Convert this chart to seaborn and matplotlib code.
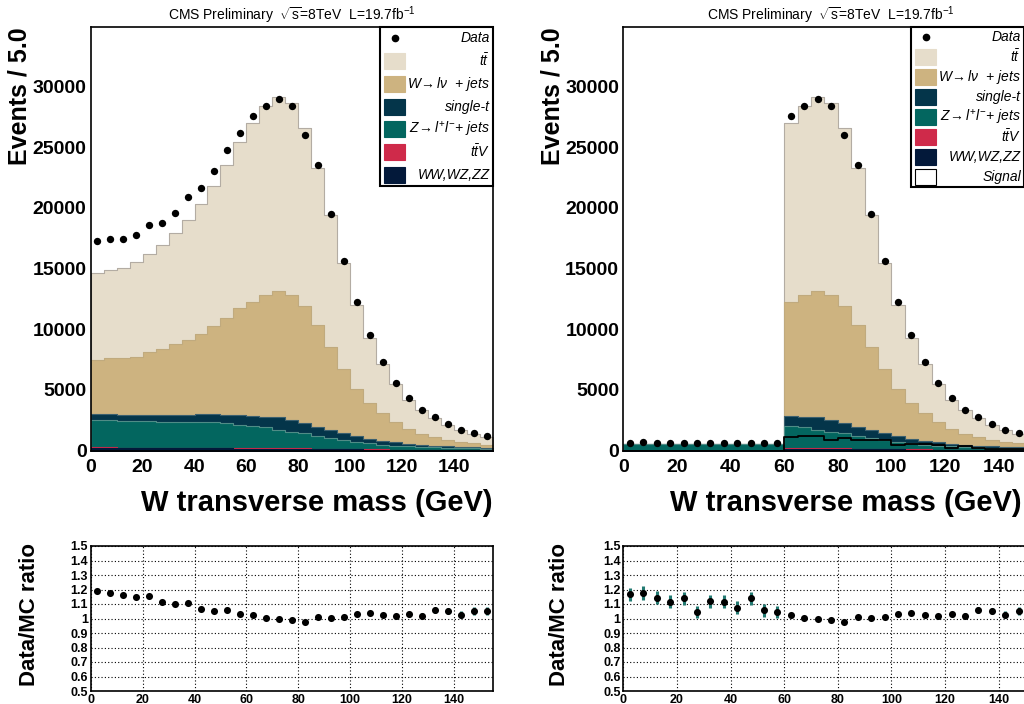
import numpy as np
import pandas as pd
import matplotlib
matplotlib.use("Agg")
import matplotlib.pyplot as plt
import seaborn as sns
from matplotlib.patches import Rectangle
from matplotlib.ticker import MultipleLocator

# ---------------- data (events per 5 GeV bin, 0-155 GeV) ----------------
bin_edges = [0, 5, 10, 15, 20, 25, 30, 35, 40, 45, 50, 55, 60, 65, 70, 75, 80, 85, 90,
             95, 100, 105, 110, 115, 120, 125, 130, 135, 140, 145, 150, 155]
bin_centers = [e + 2.5 for e in bin_edges[:-1]]

data_left = [17280, 17450, 17450, 17750, 18570, 18760, 19600, 20900, 21600, 23000,
             24800, 26200, 27600, 28400, 29000, 28400, 25970, 23500, 19450, 15600,
             12270, 9530, 7260, 5530, 4330, 3340, 2740, 2170, 1730, 1450, 1180]
ttbar = [7120, 7240, 7390, 7780, 8120, 8520, 9140, 9880, 10690, 11530,
         12570, 13650, 14730, 15530, 15950, 15830, 14690, 12980, 10910, 8740,
         6880, 5320, 4050, 3150, 2410, 1940, 1570, 1290, 1050, 770, 630]
wjets = [4440, 4600, 4650, 4760, 5120, 5450, 5830, 6160, 6620, 7230,
         7970, 8820, 9390, 10030, 10410, 10330, 9610, 8350, 6760, 5290,
         3910, 2980, 2300, 1670, 1260, 960, 740, 520, 410, 380, 270]
single_t = [490, 520, 490, 520, 550, 550, 550, 580, 630, 710,
            710, 790, 880, 890, 1010, 930, 880, 740, 660, 520,
            440, 360, 280, 250, 160, 140, 110, 90, 70, 80, 80]
zjets = [2300, 2240, 2225, 2195, 2170, 2140, 2145, 2145, 2130, 2100,
         2025, 1920, 1785, 1695, 1530, 1370, 1245, 1070, 925, 770,
         625, 500, 402, 335, 298, 245, 222, 198, 164, 137, 111]
ttv = [60, 60, 60, 60, 60, 60, 60, 60, 60, 60, 60, 60, 60, 55, 55, 50,
       45, 40, 35, 30, 25, 20, 18, 15, 12, 10, 8, 7, 6, 5, 4]
diboson = [190, 190, 185, 185, 180, 180, 175, 175, 170, 170, 165, 160, 155, 150,
           145, 140, 130, 120, 110, 100, 90, 80, 70, 60, 50, 45, 40, 35, 30, 28, 25]

# right panel: below 60 GeV only Z+jets remains (first 12 bins)
zjets_right_low = [562, 560, 561, 559, 562, 560, 558, 560, 561, 559, 560, 561]
data_right_low = [655, 660, 642, 625, 640, 585, 626, 625, 603, 638, 592, 585]
signal_right_high = [1120, 1180, 1180, 900, 1040, 900, 900, 900, 490, 550,
                     550, 490, 220, 360, 220, 160, 160, 150, 140]

ratio_left = [1.190, 1.178, 1.164, 1.150, 1.153, 1.111, 1.100, 1.105, 1.066, 1.054,
              1.059, 1.033, 1.024, 1.003, 0.997, 0.992, 0.976, 1.008, 1.003, 1.010,
              1.029, 1.038, 1.022, 1.015, 1.029, 1.020, 1.059, 1.050, 1.026, 1.054, 1.052]
ratio_err_left = [0.009, 0.009, 0.009, 0.009, 0.009, 0.009, 0.008, 0.008, 0.008, 0.008,
                  0.008, 0.007, 0.007, 0.007, 0.007, 0.007, 0.007, 0.007, 0.008, 0.009,
                  0.010, 0.011, 0.013, 0.015, 0.016, 0.018, 0.020, 0.022, 0.024, 0.027, 0.030]
ratio_right_low = [1.167, 1.176, 1.144, 1.114, 1.139, 1.045, 1.118, 1.116, 1.075, 1.139,
                   1.056, 1.045]
ratio_err_right_low = [0.046, 0.046, 0.045, 0.045, 0.045, 0.044, 0.045, 0.045, 0.044,
                       0.045, 0.044, 0.044]

# ---------------- style ----------------
sns.set_theme(style="white")
plt.rcParams["font.family"] = ["Liberation Sans", "DejaVu Sans"]
plt.rcParams["mathtext.fontset"] = "custom"
plt.rcParams["mathtext.rm"] = "Liberation Sans"
plt.rcParams["mathtext.it"] = "Liberation Sans:italic"
plt.rcParams["mathtext.bf"] = "Liberation Sans:bold"
plt.rcParams["mathtext.sf"] = "Liberation Sans"
plt.rcParams["axes.linewidth"] = 1.2
for key in ["text.color", "axes.labelcolor", "xtick.color", "ytick.color",
            "axes.edgecolor"]:
    plt.rcParams[key] = "black"

C_TT = "#e6ddcb"
C_W = "#cdb380"
C_ST = "#04354a"
C_Z = "#03665f"
C_TTV = "#cf2a4a"
C_VV = "#03193a"
C_ERR = "#237a72"

W, H = 1024, 704
fig = plt.figure(figsize=(W / 100, H / 100), dpi=100)


def fx(px):
    return px / W


def fy(px):
    return 1 - px / H


main_top, main_bot = 27, 450.5
rat_top, rat_bot = 546, 691
panels = [
    dict(x0=90.7, x1=493.0, leg_x0=380, leg_x1=493, leg_y1=186, xlab_r=493,
         ylab_x=32, rlab_x=40),
    dict(x0=623.3, x1=1038.7, leg_x0=911, leg_x1=1024, leg_y1=187, xlab_r=1022,
         ylab_x=565, rlab_x=570),
]

n_low = 12
comps_left = [np.array(c, dtype=float) for c in [diboson, ttv, zjets, single_t, wjets, ttbar]]
comps_right = [
    np.concatenate([np.zeros(n_low), np.array(diboson[n_low:], dtype=float)]),
    np.concatenate([np.zeros(n_low), np.array(ttv[n_low:], dtype=float)]),
    np.concatenate([np.array(zjets_right_low, dtype=float), np.array(zjets[n_low:], dtype=float)]),
    np.concatenate([np.zeros(n_low), np.array(single_t[n_low:], dtype=float)]),
    np.concatenate([np.zeros(n_low), np.array(wjets[n_low:], dtype=float)]),
    np.concatenate([np.zeros(n_low), np.array(ttbar[n_low:], dtype=float)]),
]
data_right = data_right_low + data_left[n_low:]
signal_right = [0.0] * n_low + signal_right_high
ratio_right = ratio_right_low + ratio_left[n_low:]
ratio_err_right = ratio_err_right_low + ratio_err_left[n_low:]

colors_bottom_up = [C_VV, C_TTV, C_Z, C_ST, C_W, C_TT]
edges_bottom_up = [C_VV, C_TTV, "#4f8c86", "#3b5f6e", "#c0aa7e", "#b3aca3"]

title = r"CMS Preliminary  $\sqrt{\mathrm{s}}$=8TeV  L=19.7fb$^{-1}$"

leg_entries_common = [
    ("Data", "dot", None),
    (r"$t\bar{t}$", "box", C_TT),
    (r"$W\!\rightarrow l\nu$  + jets", "box", C_W),
    ("single-t", "box", C_ST),
    (r"$Z\!\rightarrow l^{+}l^{-}$+ jets", "box", C_Z),
    (r"$t\bar{t}V$", "box", C_TTV),
    ("WW,WZ,ZZ", "box", C_VV),
]


def draw_main(ax, comps, data, signal=None):
    cum = np.cumsum(np.vstack(comps), axis=0)
    for i in range(len(comps) - 1, -1, -1):
        df = pd.DataFrame({"x": bin_centers, "w": cum[i]})
        sns.histplot(data=df, x="x", weights="w", bins=bin_edges, element="step",
                     fill=True, color=colors_bottom_up[i], alpha=1,
                     edgecolor=edges_bottom_up[i], linewidth=0.8, ax=ax)
    if signal is not None:
        df = pd.DataFrame({"x": bin_centers, "w": signal})
        sns.histplot(data=df, x="x", weights="w", bins=bin_edges, element="step",
                     fill=False, color="black", linewidth=1.3, ax=ax)
    sns.scatterplot(x=bin_centers, y=data, color="black", s=28, linewidth=0,
                    zorder=5, legend=False, ax=ax)
    ax.set_xlim(0, 155)
    ax.set_ylim(0, 34900)
    ax.xaxis.set_major_locator(MultipleLocator(20))
    ax.xaxis.set_minor_locator(MultipleLocator(5))
    ax.yaxis.set_major_locator(MultipleLocator(5000))
    ax.yaxis.set_minor_locator(MultipleLocator(1000))
    ax.tick_params(axis="both", which="both", direction="in", top=False, right=False,
                   labelsize=14)
    ax.tick_params(axis="y", which="major", length=10, width=1.2, pad=3)
    ax.tick_params(axis="y", which="minor", length=6, width=1.0)
    ax.tick_params(axis="x", which="major", length=9, width=1.2, pad=6)
    ax.tick_params(axis="x", which="minor", length=5, width=1.0)
    for lbl in ax.get_xticklabels() + ax.get_yticklabels():
        lbl.set_fontweight("bold")
    for s in ax.spines.values():
        s.set_color("black")
        s.set_linewidth(1.2)
    ax.set_xlabel("W transverse mass (GeV)", fontsize=21, fontweight="bold", loc="right")
    ax.set_ylabel("Events / 5.0", fontsize=18, fontweight="bold", loc="top")
    ax.set_title(title, fontsize=10, fontweight="normal", pad=5)


def draw_ratio(ax, ratio, err):
    ax.errorbar(bin_centers, ratio, yerr=err, fmt="none", ecolor=C_ERR,
                elinewidth=2.2, capsize=0, zorder=3)
    sns.scatterplot(x=bin_centers, y=ratio, color="black", s=26, linewidth=0,
                    zorder=5, legend=False, ax=ax)
    ax.set_xlim(0, 155)
    ax.set_ylim(0.5, 1.5)
    ax.xaxis.set_major_locator(MultipleLocator(20))
    ax.yaxis.set_major_locator(MultipleLocator(0.1))
    ax.yaxis.set_minor_locator(MultipleLocator(0.01))
    ax.yaxis.set_major_formatter(matplotlib.ticker.FuncFormatter(
        lambda v, p: "1" if abs(v - 1) < 1e-6 else f"{v:.1f}"))
    ax.grid(True, which="major", color="black", linestyle=(0, (1, 2)), linewidth=0.8)
    ax.tick_params(axis="both", which="both", direction="in", top=False, right=False,
                   labelsize=9)
    ax.tick_params(axis="y", which="major", length=7, width=1.0, pad=2)
    ax.tick_params(axis="y", which="minor", length=5, width=0.8)
    ax.tick_params(axis="x", which="major", length=0, pad=2)
    for lbl in ax.get_xticklabels() + ax.get_yticklabels():
        lbl.set_fontweight("bold")
    for s in ax.spines.values():
        s.set_color("black")
        s.set_linewidth(1.2)
    ax.set_xlabel("")
    ax.set_ylabel("Data/MC ratio", fontsize=16, fontweight="bold")


def draw_legend(p, entries):
    x0, x1 = p["leg_x0"], p["leg_x1"]
    y0, y1 = main_top, p["leg_y1"]
    fig.patches.append(Rectangle((fx(x0), fy(y1)), fx(x1 - x0), (y1 - y0) / H,
                                 transform=fig.transFigure, facecolor="white",
                                 edgecolor="black", linewidth=1.5, zorder=10))
    n = len(entries)
    row = (y1 - y0) / n
    for k, (label, kind, col) in enumerate(entries):
        yc = y0 + row * (k + 0.5)
        sx0, sx1 = x0 + 4, x0 + 25
        if kind == "dot":
            fig.lines.append(plt.Line2D([fx((sx0 + sx1) / 2)], [fy(yc)], marker="o",
                                        markersize=4.5, color="black",
                                        transform=fig.transFigure, zorder=11))
        else:
            hh = min(16, row - 5)
            ec = "black" if col == "white" else col
            fig.patches.append(Rectangle((fx(sx0), fy(yc + hh / 2)), fx(sx1 - sx0), hh / H,
                                         transform=fig.transFigure, facecolor=col,
                                         edgecolor=ec, linewidth=0.8, zorder=11))
        fig.text(fx(x1 - 3), fy(yc), label, ha="right", va="center", fontsize=10,
                 fontstyle="italic", fontweight="normal", zorder=12)


for idx, p in enumerate(panels):
    axm = fig.add_axes([fx(p["x0"]), fy(main_bot), fx(p["x1"] - p["x0"]),
                        (main_bot - main_top) / H])
    axr = fig.add_axes([fx(p["x0"]), fy(rat_bot), fx(p["x1"] - p["x0"]),
                        (rat_bot - rat_top) / H])
    if idx == 0:
        draw_main(axm, comps_left, data_left)
        draw_ratio(axr, ratio_left, ratio_err_left)
        entries = leg_entries_common
    else:
        draw_main(axm, comps_right, data_right, signal_right)
        draw_ratio(axr, ratio_right, ratio_err_right)
        entries = leg_entries_common + [("Signal", "box", "white")]
    width_px = p["x1"] - p["x0"]
    axm.yaxis.set_label_coords((p["ylab_x"] - p["x0"]) / width_px, 1.0)
    axm.xaxis.set_label_coords((p["xlab_r"] - p["x0"]) / width_px,
                               (main_bot - 489) / (main_bot - main_top))
    axr.yaxis.set_label_coords((p["rlab_x"] - p["x0"]) / width_px, 0.53)
    draw_legend(p, entries)

fig.savefig("out.png", dpi=100)
